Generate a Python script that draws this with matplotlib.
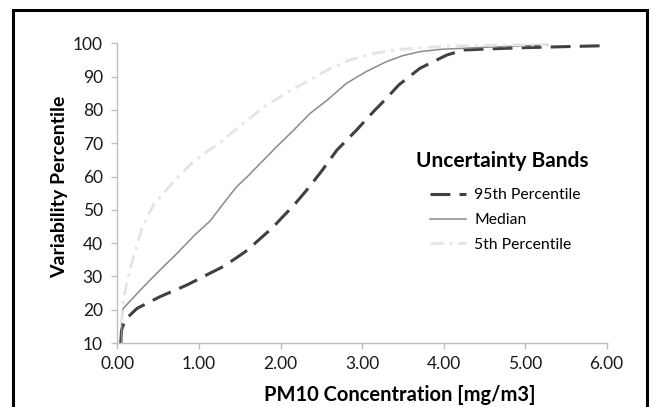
#!/usr/bin/env python

import numpy
import matplotlib
matplotlib.use('Agg')
import matplotlib.pyplot as plt
from matplotlib.patches import Rectangle

plt.rcParams['font.family'] = ['Lato', 'DejaVu Sans']

# concentration [mg/m3] and variability percentile
p95X = [0.04, 0.05, 0.09, 0.24, 0.52, 0.85, 1.13, 1.30, 1.46, 1.60, 1.73, 1.85,
        1.95, 2.05, 2.15, 2.32, 2.50, 2.69, 2.93, 3.14, 3.30, 3.45, 3.71, 4.04,
        4.25, 4.65, 5.00, 5.50, 6.00]
p95Y = [10.0, 13.9, 16.9, 20.4, 23.9, 27.4, 30.9, 33.0, 35.6, 38.0, 40.9, 43.5,
        45.9, 48.5, 51.0, 55.9, 61.5, 67.9, 73.9, 79.5, 83.5, 87.5, 92.5, 96.5,
        98.0, 98.4, 98.7, 99.0, 99.3]

medX = [0.05, 0.05, 0.07, 0.32, 0.52, 0.73, 0.95, 1.13, 1.30, 1.46, 1.59, 1.71,
        1.95, 2.16, 2.36, 2.57, 2.81, 3.05, 3.30, 3.50, 3.71, 3.97, 4.50, 5.27]
medY = [10.0, 16.9, 20.4, 26.9, 31.9, 36.9, 42.5, 46.5, 51.9, 56.9, 59.9, 62.9,
        68.9, 73.9, 78.9, 82.9, 88.0, 91.5, 94.5, 96.3, 97.5, 98.2, 98.8, 99.5]

p5X = [0.05, 0.07, 0.15, 0.30, 0.44, 0.60, 0.73, 0.93, 1.10, 1.26, 1.54, 1.83,
       2.10, 2.36, 2.60, 2.85, 3.15, 3.47, 4.00, 4.60, 5.27]
p5Y = [16.0, 22.9, 31.9, 44.5, 51.5, 56.0, 59.5, 64.5, 67.5, 70.2, 75.9, 81.5,
       85.5, 89.0, 92.3, 95.0, 97.0, 98.2, 99.1, 99.4, 99.6]

xTicks = [0, 1, 2, 3, 4, 5, 6]
yTicks = [10, 20, 30, 40, 50, 60, 70, 80, 90, 100]

fig = plt.figure(figsize=(6.52, 4.07), dpi=100)
ax = fig.add_axes([0.1802, 0.1572, 0.7503, 0.7364])

ax.plot(p95X, p95Y, color='#404040', linewidth=2.2, dashes=(6.5, 3.0),
        label='95th Percentile', solid_joinstyle='round', dash_joinstyle='round')
ax.plot(medX, medY, color='#8a8a8a', linewidth=1.1, label='Median',
        solid_joinstyle='round')
ax.plot(p5X, p5Y, color='#e4e4e4', linewidth=2.0, dashes=(4.7, 2.2, 1.0, 2.2),
        label='5th Percentile', dash_joinstyle='round')

ax.set_xlim(0, 6)
ax.set_ylim(10, 100)
ax.set_xticks(xTicks)
ax.set_xticklabels(['%.2f' % v for v in xTicks])
ax.set_yticks(yTicks)

for side in ['top', 'right']:
  ax.spines[side].set_visible(False)
for side in ['left', 'bottom']:
  ax.spines[side].set_color('#c0c0c0')
  ax.spines[side].set_linewidth(1.0)
ax.tick_params(direction='out', length=4, width=1.0, color='#c0c0c0',
               labelsize=12.5, labelcolor='#1a1a1a')
ax.tick_params(axis='x', pad=5)
ax.tick_params(axis='y', pad=6.5)

ax.set_xlabel('PM10 Concentration [mg/m3]', fontsize=14.5, fontweight='bold')
ax.xaxis.label.set_va('center')
ax.xaxis.set_label_coords(0.577, -0.175)
ax.set_ylabel('Variability Percentile', fontsize=14, fontweight='bold')
ax.yaxis.label.set_va('center')
ax.yaxis.set_label_coords(-0.1175, 0.5216)

ax.text(0.610, 0.607, 'Uncertainty Bands', transform=ax.transAxes,
        fontsize=15, fontweight='bold', ha='left', va='center')

leg = ax.legend(loc='upper left', bbox_to_anchor=(0.639, 0.516), frameon=False,
                fontsize=11.3, handlelength=2.3, labelspacing=0.68,
                handletextpad=0.5, borderpad=0, borderaxespad=0)

fig.patches.append(Rectangle((13/652.0, -0.01), 634/652.0, 1 - 10/407.0 + 0.01,
                             transform=fig.transFigure, fill=False,
                             edgecolor='black', linewidth=2.2))

fig.savefig('out.png', dpi=100)
